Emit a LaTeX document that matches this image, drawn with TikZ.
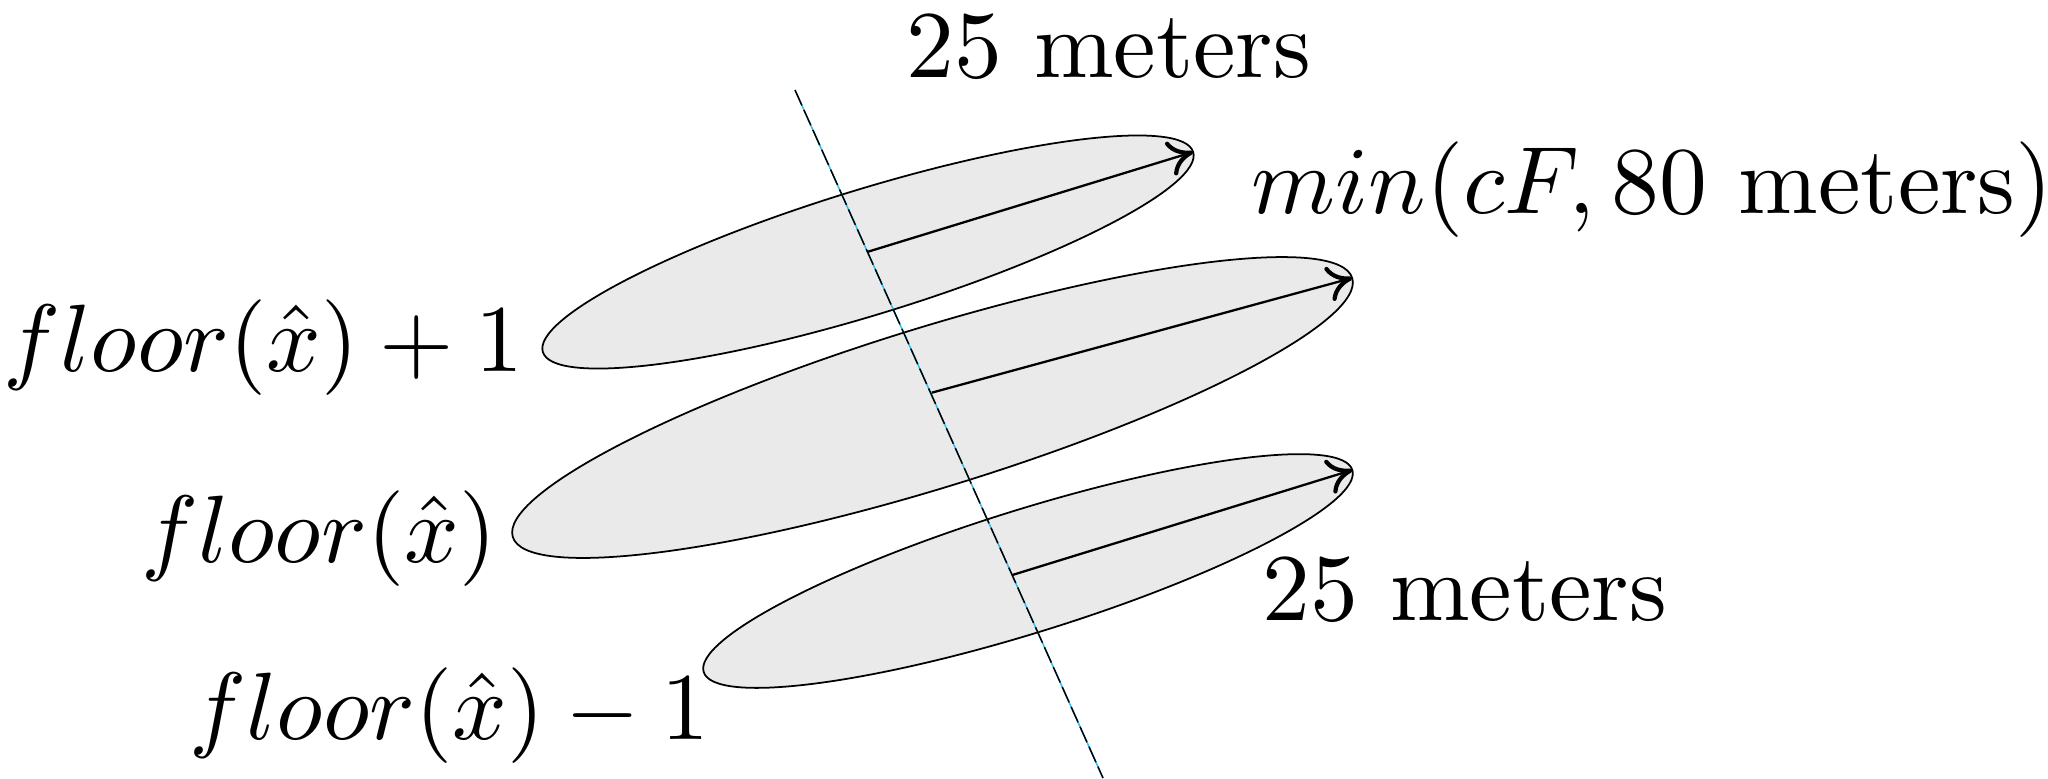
\documentclass[tikz,border=0pt]{standalone}
\DeclareFontShape{OML}{cmm}{m}{it}{<->cmmi10}{}
\DeclareFontShape{OMS}{cmsy}{m}{n}{<->cmsy10}{}
\DeclareFontShape{OT1}{cmr}{m}{n}{<->cmr10}{}
\DeclareFontShape{OMX}{cmex}{m}{n}{<->cmex10}{}
\newcommand\cmrtext{\fontencoding{OT1}\fontfamily{cmr}\selectfont}
\usetikzlibrary{shapes.geometric,arrows.meta}
\definecolor{fillgray}{RGB}{234,234,234}
\definecolor{dashcyan}{RGB}{40,190,240}
\begin{document}
\begin{tikzpicture}[x=0.01cm,y=-0.01cm,
  blob/.style={ellipse,draw=black,fill=fillgray,line width=0.5pt,inner sep=0pt,outer sep=0pt},
  radiusarrow/.style={line width=0.65pt,-{Computer Modern Rightarrow[length=7pt,width=10pt,line width=1.2pt]}},
  axisline/.style={line width=0.42pt},
  lbl/.style={inner sep=0pt,font=\fontsize{27.2}{33}\selectfont\cmrtext}]
\useasboundingbox (0,0) rectangle (2048,778);
% ellipses
\node[blob,minimum width=6.8cm,minimum height=1.25cm,rotate=17.1] (e1) at (868,252) {};
\node[blob,minimum width=8.78cm,minimum height=1.6cm,rotate=17.15] (e2) at (932.5,407.5) {};
\node[blob,minimum width=6.79cm,minimum height=1.23cm,rotate=17.3] (e3) at (1028,571) {};
% dashed axis
\coordinate (d0) at (795,90);
\coordinate (d1) at (1103,778);
\draw[axisline,dashcyan] (d0) -- (d1);
\draw[axisline,black,dash pattern=on 4.8pt off 1.4pt] (d0) -- (d1);
% arrow starts
\coordinate (s1) at (867,252);
\coordinate (s2) at (931.7,392.7);
\coordinate (s3) at (1012.3,575);
\draw[radiusarrow] (s1) -- (e1.east);
\draw[radiusarrow] (s2) -- (e2.east);
\draw[radiusarrow] (s3) -- (e3.east);
% labels
\node[lbl,anchor=base east] (l1) at (524,371) {$floor(\hat{x})+1$};
\node[lbl,anchor=base east] (l2) at (497,562) {$floor(\hat{x})$};
\node[lbl,anchor=base east] (l3) at (710,739) {$floor(\hat{x})-1$};
\node[lbl,anchor=base] (t1) at (1109,77) {25 meters};
\node[lbl,anchor=base west] (t2) at (1251,213) {$min(cF,80\mbox{ meters})$};
\node[lbl,anchor=base west] (t3) at (1262,620) {25 meters};
\end{tikzpicture}
\end{document}
